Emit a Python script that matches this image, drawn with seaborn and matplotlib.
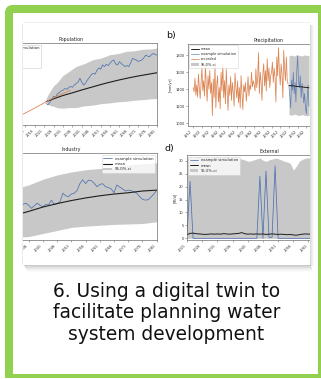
import matplotlib
matplotlib.use("Agg")
import matplotlib.pyplot as plt
import matplotlib.transforms as mtransforms
from matplotlib.patches import Rectangle, FancyBboxPatch
import seaborn as sns

# ---------------- data ----------------
# a) Population
pop_rec_years = [1990, 1995, 2000, 2005, 2010, 2015, 2020, 2025, 2030, 2035]
pop_rec = [250, 277, 304, 330, 354, 378, 403, 428, 450, 470]
pop_mean_years = [2022, 2026, 2031, 2036, 2041, 2046, 2051, 2056, 2061, 2066, 2071, 2076, 2081]
pop_mean = [414, 428, 444, 457, 471, 484, 497, 509, 520, 530, 539, 547, 555]
pop_ci_years = [2022, 2023, 2024, 2026, 2028, 2031, 2034, 2038, 2042, 2047, 2051, 2056,
                2060, 2065, 2069, 2074, 2078, 2081]
pop_ci_high = [428, 447, 463, 492, 508, 542, 560, 586, 598, 619, 626, 643, 648, 660, 662, 670, 671, 676]
pop_ci_low = [412, 401, 395, 391, 384, 382, 385, 385, 393, 397, 404, 408, 413, 416, 421, 424, 428, 429]
pop_sim_years = list(range(2022, 2082))
pop_sim = [405, 398, 412, 425, 440, 436, 452, 458, 466, 470,
           478, 474, 482, 488, 484, 495, 502, 510, 528, 508,
           495, 505, 520, 532, 545, 552, 548, 566, 578, 572,
           593, 585, 596, 590, 601, 612, 617, 598, 593, 609,
           600, 592, 585, 590, 585, 604, 625, 620, 617, 610,
           614, 617, 628, 641, 636, 633, 642, 649, 644, 641]
pop_ticks = list(range(2011, 2082, 5))

# b) Precipitation
pr_rec_years = list(range(1912, 2022))
pr_rec = [1420, 1370, 1530, 1330, 1450, 1310, 1580, 1420, 1290, 1470,
          1650, 1380, 1500, 1320, 1700, 1440, 1260, 1560, 1400, 1620,
          1350, 1480, 1090, 1520, 1300, 1680, 1180, 1450, 1560, 1250,
          1420, 1170, 1600, 1380, 1700, 1300, 1500, 1230, 1640, 1380,
          1150, 1450, 1330, 1550, 1270, 1480, 1360, 1200, 1590, 1420,
          1300, 1500, 1240, 1420, 1180, 1560, 1350, 1160, 1450, 1370,
          1480, 1260, 1390, 1550, 1320, 1450, 1400, 1600, 1430, 1500,
          1460, 1380, 1640, 1420, 1520, 1830, 1350, 1600, 1480, 1270,
          1580, 1700, 1440, 1620, 1380, 1760, 1500, 1650, 1420, 1560,
          1600, 1720, 1480, 1650, 1540, 1250, 1780, 1560, 1890, 1620,
          1450, 1700, 1580, 1300, 1860, 1650, 1500, 1780, 1520, 1460]
pr_sim_years = list(range(2022, 2046))
pr_sim = [1440, 1320, 1180, 1510, 1390, 1600, 1350, 1480, 1250, 1620,
          1790, 1500, 1420, 1560, 1300, 1470, 1380, 1240, 1350, 1180,
          1110, 1300, 1450, 1200]
pr_mean_years = [2022, 2027, 2032, 2037, 2042, 2045]
pr_mean = [1445, 1440, 1433, 1428, 1421, 1418]
pr_ci_years = [2022, 2025, 2028, 2031, 2034, 2037, 2040, 2043, 2045]
pr_ci_high = [1795, 1802, 1790, 1808, 1798, 1792, 1805, 1796, 1800]
pr_ci_low = [1102, 1095, 1108, 1098, 1090, 1104, 1093, 1088, 1095]
pr_ticks = list(range(1912, 2043, 10))
pr_yticks = [1000, 1200, 1400, 1600, 1800]

# c) Industry
ind_years = list(range(2021, 2082))
ind_sim = [9.0, 9.8, 10.5, 10.1, 11.0, 11.6, 11.2, 12.0, 12.4, 11.9,
           12.6, 13.0, 12.5, 13.2, 13.5, 13.0, 12.3, 12.9, 13.5, 13.0,
           12.7, 13.2, 13.1, 14.2, 13.2, 13.4, 13.8, 15.8, 15.2, 15.0,
           15.6, 15.8, 16.4, 18.0, 18.9, 18.0, 18.8, 18.7, 18.1, 17.3,
           17.8, 18.0, 17.3, 17.1, 16.8, 15.9, 17.7, 17.2, 16.8, 16.3,
           16.5, 16.4, 16.1, 15.8, 15.0, 14.4, 14.2, 14.3, 14.9, 15.6,
           16.5]
ind_stat_years = [2021, 2026, 2031, 2036, 2041, 2046, 2051, 2056, 2061, 2066, 2071, 2076, 2081]
ind_mean = [8.6, 9.7, 10.7, 11.6, 12.6, 13.4, 14.1, 14.7, 15.2, 15.6, 15.9, 16.3, 16.5]
ind_ci_high = [12.0, 15.0, 16.8, 17.7, 19.0, 20.0, 20.7, 21.2, 21.5, 21.9, 22.3, 22.6, 22.8]
ind_ci_low = [5.5, 5.4, 5.6, 5.8, 6.5, 7.2, 7.9, 8.2, 8.4, 8.6, 8.7, 8.8, 9.2]
ind_ticks = list(range(2036, 2082, 5))

# d) External
ext_years = list(range(2021, 2063))
ext_sim = [1.3, 22.0,
           0, 0, 0, 0, 0, 0, 0, 0, 0, 0, 0, 0, 0, 0, 0, 0, 0, 0, 0, 0, 0, 0,
           24.0, 0.0, 26.0, 0.4, 0.4, 28.0,
           0, 0, 0, 0, 0, 0, 0, 0, 0, 0, 0, 0]
ext_mean = [1.4, 1.9, 2.0, 1.8, 1.7, 1.6, 1.5, 1.6, 1.7, 1.6,
            1.7, 1.6, 1.8, 1.7, 1.6, 1.7, 1.8, 1.9, 2.2, 1.8,
            1.6, 1.7, 1.6, 1.7, 1.6, 1.7, 1.5, 1.6, 1.7, 1.6,
            1.5, 1.6, 1.5, 1.4, 1.5, 1.3, 1.2, 1.4, 1.6, 1.7,
            1.6, 1.7]
ext_ci_high = [31.2, 31.4, 31.0, 31.3, 31.5, 31.1, 31.3, 31.4, 31.0, 31.2,
               31.5, 31.1, 31.3, 31.4, 31.0, 31.2, 31.3, 31.0, 30.6, 30.3,
               29.8, 29.9, 30.3, 30.7, 31.0, 30.2, 29.7, 30.3, 30.6, 31.0,
               30.8, 30.3, 29.8, 29.5, 29.0, 26.4, 27.8, 29.8, 30.5, 31.0,
               31.1, 31.2]
ext_ci_low = 0.0
ext_ticks = list(range(2021, 2062, 5))
ext_yticks = [0, 5, 10, 15, 20, 25, 30]

caption_lines = ["6. Using a digital twin to", "facilitate planning water", "system development"]

# ---------------- styling ----------------
BLUE = "#4c72b0"
ORANGE = "#dd8452"
MEAN = "#1e1e1e"
CI = "#c8c8c8"
GREEN = "#92d050"

sns.set_theme(style="ticks")
plt.rcParams["font.family"] = ["DejaVu Sans"]

W, H = 321, 379
fig = plt.figure(figsize=(W / 100, H / 100), dpi=100)
fig.patch.set_facecolor("white")
pix = mtransforms.Affine2D().scale(1 / W, -1 / H).translate(0, 1) + fig.transFigure


def ax_at(l, t, r, b):
    return fig.add_axes([l / W, 1 - b / H, (r - l) / W, (b - t) / H])


def rect(x0, y0, x1, y1, color, z, alpha=1.0):
    fig.add_artist(Rectangle((x0, y0), x1 - x0, y1 - y0, transform=pix, facecolor=color,
                             edgecolor="none", zorder=z, alpha=alpha))


def style(ax):
    ax.set_facecolor("white")
    for s in ax.spines.values():
        s.set_visible(True)
        s.set_linewidth(0.5)
        s.set_color("#6f6f6f")
    ax.tick_params(axis="both", labelsize=2.6, length=1.6, width=0.4, color="#6f6f6f",
                   pad=0.8, labelcolor="#333333")
    ax.set_xlabel("")
    ax.set_ylabel("")


def legend(ax, order, loc, fs):
    h, l = ax.get_legend_handles_labels()
    d = dict(zip(l, h))
    lg = ax.legend([d[k] for k in order], order, loc=loc, fontsize=fs, handlelength=2.2,
                   borderpad=0.45, labelspacing=0.35, handletextpad=0.7, borderaxespad=0.4,
                   framealpha=0.8, fancybox=True)
    lg.get_frame().set_linewidth(0.4)
    lg.get_frame().set_edgecolor("#cccccc")
    return lg


def xticks(ax, ticks):
    ax.set_xticks(ticks)
    ax.set_xticklabels([str(t) for t in ticks], rotation=45, ha="right")


# a) Population (left part cropped in the source screenshot)
axA = ax_at(-14, 43, 157, 125)
axA.fill_between(pop_ci_years, pop_ci_low, pop_ci_high, color=CI, lw=0, label="95.0%-ci")
sns.lineplot(x=pop_sim_years, y=pop_sim, ax=axA, color=BLUE, lw=0.55, label="example simulation")
sns.lineplot(x=pop_mean_years, y=pop_mean, ax=axA, color=MEAN, lw=0.8, label="mean")
sns.lineplot(x=pop_rec_years, y=pop_rec, ax=axA, color=ORANGE, lw=0.6, label="recorded")
axA.set_xlim(1990, 2081)
axA.set_ylim(300, 700)
style(axA)
xticks(axA, pop_ticks)
axA.set_yticks([])
axA.set_title("Population", fontsize=3.4, pad=1.3, color="#222222")
lgA = legend(axA, ["example simulation", "mean", "recorded", "95.0%-ci"], "upper left", 2.8)
lgA.get_frame().set_alpha(1.0)

# b) Precipitation
axB = ax_at(188, 44, 349, 126)
axB.fill_between(pr_ci_years, pr_ci_low, pr_ci_high, color=CI, lw=0, label="95.0%-ci")
sns.lineplot(x=pr_rec_years, y=pr_rec, ax=axB, color=ORANGE, lw=0.55, label="recorded")
sns.lineplot(x=pr_sim_years, y=pr_sim, ax=axB, color=BLUE, lw=0.5, alpha=0.85, label="example simulation")
sns.lineplot(x=pr_mean_years, y=pr_mean, ax=axB, color=MEAN, lw=0.7, label="mean")
axB.set_xlim(1906, 2091)
axB.set_ylim(968, 1933)
style(axB)
xticks(axB, pr_ticks)
axB.set_yticks(pr_yticks)
axB.set_ylabel("[mm/yr]", fontsize=2.5, labelpad=1.5)
axB.set_title("Precipitation", fontsize=3.4, pad=1.3, color="#222222")
legend(axB, ["mean", "example simulation", "recorded", "95.0%-ci"], "upper left", 2.5)

# c) Industry (left part cropped in the source screenshot)
axC = ax_at(-14, 153.3, 156.7, 240)
axC.fill_between(ind_stat_years, ind_ci_low, ind_ci_high, color=CI, lw=0, label="95.0%-ci")
sns.lineplot(x=ind_years, y=ind_sim, ax=axC, color=BLUE, lw=0.55, label="example simulation")
sns.lineplot(x=ind_stat_years, y=ind_mean, ax=axC, color=MEAN, lw=0.8, label="mean")
axC.set_xlim(2021, 2081)
axC.set_ylim(5, 25)
style(axC)
xticks(axC, ind_ticks)
axC.set_yticks([])
axC.set_title("Industry", fontsize=3.4, pad=1.3, color="#222222")
legend(axC, ["example simulation", "mean", "95.0%-ci"], "upper right", 2.8)

# d) External
axD = ax_at(187, 155, 351, 240)
axD.fill_between(ext_years, ext_ci_low, ext_ci_high, color=CI, lw=0, label="95.0%-ci")
sns.lineplot(x=ext_years, y=ext_sim, ax=axD, color=BLUE, lw=0.55, label="example simulation")
sns.lineplot(x=ext_years, y=ext_mean, ax=axD, color=MEAN, lw=0.7, label="mean")
axD.set_xlim(2021, 2075)
axD.set_ylim(-0.65, 32.2)
style(axD)
xticks(axD, ext_ticks)
axD.set_yticks(ext_yticks)
axD.set_ylabel("[Ml/d]", fontsize=2.5, labelpad=1.5)
axD.set_title("External", fontsize=3.4, pad=1.3, color="#222222")
legend(axD, ["example simulation", "mean", "95.0%-ci"], "upper left", 2.7)

# panel letters
fig.text(166.5, 38, "b)", transform=pix, fontsize=6.8, va="baseline", ha="left", color="#111111")
fig.text(164.5, 151, "d)", transform=pix, fontsize=6.8, va="baseline", ha="left", color="#111111")

# crop masks outside the screenshot
rect(0, 0, 23, H, "white", 2)
rect(310, 0, W, H, "white", 2)

# screenshot shadow
for k, a in enumerate([0.30, 0.24, 0.18, 0.13, 0.08, 0.05, 0.025]):
    rect(24 + k * 0.5, 265 + k, 311 + k * 0.3, 266 + k, "#555555", 3, alpha=a)
for k, a in enumerate([0.22, 0.14, 0.08, 0.04]):
    rect(310 + k, 25, 311 + k, 266, "#555555", 3, alpha=a)
rect(22, 24, 23, 265, "#555555", 3, alpha=0.12)
rect(23, 22.4, 310, 23.2, "#555555", 3, alpha=0.08)

# green card border
fig.add_artist(FancyBboxPatch((5, 5), 18, 18, boxstyle="round,pad=0,rounding_size=8",
                              transform=pix, facecolor=GREEN, edgecolor="none", zorder=4))
rect(13, 13, 23.5, 22.3, "white", 4.1)
rect(13, 13, 21.9, 23.5, "white", 4.1)
rect(12, 5, 321, 13, GREEN, 4.2)
rect(5, 12, 13, 378, GREEN, 4.2)
rect(318, 5, 321, 378, GREEN, 4.2)
rect(5, 374, 321, 378, GREEN, 4.2)

# caption
for yb, line in zip([296.7, 318.4, 340.2], caption_lines):
    fig.text(166.5, yb, line, transform=pix, fontsize=13.4, ha="center", va="baseline",
             color="#111111", zorder=5)

fig.savefig("out.png", dpi=100)
